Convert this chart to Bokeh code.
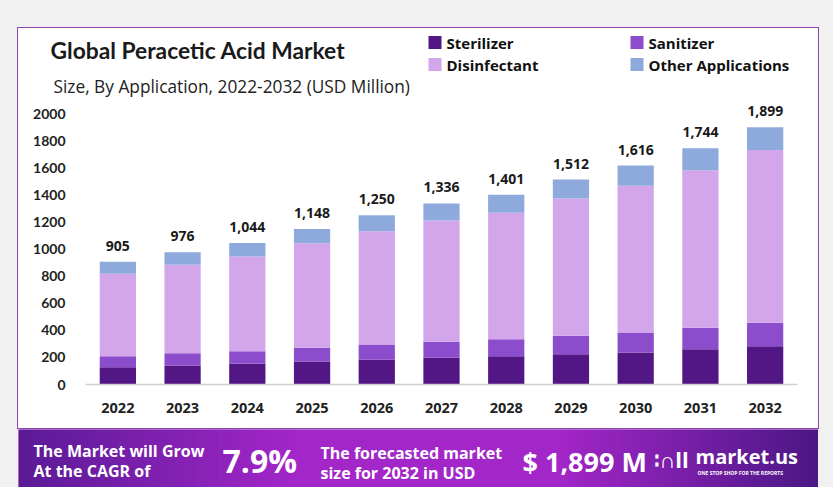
from bokeh.plotting import figure
from bokeh.layouts import column, row
from bokeh.models import FixedTicker, Label, ColumnDataSource, FactorRange, Range1d, Spacer
from bokeh.core.properties import value
from bokeh.embed import file_html
from bokeh.resources import INLINE

# ---------------- data ----------------
years = ["2022", "2023", "2024", "2025", "2026", "2027", "2028", "2029", "2030", "2031", "2032"]
sterilizer = [128, 140, 153, 170, 182, 197, 209, 224, 236, 261, 283]
sanitizer = [81, 91, 93, 101, 113, 118, 125, 135, 148, 157, 172]
disinfectant = [608, 652, 699, 772, 836, 895, 933, 1014, 1082, 1164, 1275]
other_apps = [88, 93, 99, 105, 119, 126, 134, 139, 150, 162, 169]
totals = [905, 976, 1044, 1148, 1250, 1336, 1401, 1512, 1616, 1744, 1899]
y_ticks = [0, 200, 400, 600, 800, 1000, 1200, 1400, 1600, 1800, 2000]
segments = ["Sterilizer", "Sanitizer", "Disinfectant", "Other Applications"]
seg_colors = ["#521685", "#8c4dcc", "#d3a6eb", "#8eaadc"]

title_text = "Global Peracetic Acid Market"
subtitle_text = "Size, By Application, 2022-2032 (USD Million)"
cagr_text = "7.9%"
forecast_text = "$ 1,899 M"

# ---------------- layout constants (page pixels) ----------------
PAGE_W, PAGE_H = 833, 487
CARD_L, CARD_T, CARD_W = 18, 28, 800
HDR_H = 71
CHART_H = 329
BAN_T, BAN_H = 429, 58
GRAY = "#f1f1f1"

# ---------------- header (title, subtitle, legend) ----------------
hdr = figure(width=CARD_W, height=HDR_H, x_range=Range1d(0, CARD_W), y_range=Range1d(HDR_H, 0),
             output_backend="svg", toolbar_location=None, x_axis_type=None, y_axis_type=None,
             min_border=0, min_border_left=0, min_border_right=0, min_border_top=0,
             min_border_bottom=0, outline_line_color=None, background_fill_color="white",
             border_fill_color="white")
hdr.xgrid.visible = False
hdr.ygrid.visible = False


def hlab(px, py, text, size, font="Open Sans", style="bold", color="#1a1a1a"):
    hdr.add_layout(Label(x=px - CARD_L, y=py - CARD_T, text=text, text_font=font,
                         text_font_style=style, text_font_size=size, text_color=color,
                         text_align="left", text_baseline="middle"))


hlab(50, 49, title_text, "22.8px", font="Lato")
hlab(53, 85.5, subtitle_text, "17.3px", style="normal", color="#222222")

leg_x = [428, 630, 428, 630]
leg_y = [42, 42, 64, 64]
leg_src = ColumnDataSource(dict(x=[v - CARD_L + 6.5 for v in leg_x], y=[v - CARD_T for v in leg_y],
                                tx=[v - CARD_L + 18 for v in leg_x], label=segments, color=seg_colors))
hdr.rect(x="x", y="y", width=13, height=13, fill_color="color", line_color=None, source=leg_src)
hdr.text(x="tx", y="y", text="label", source=leg_src, text_font=value("Open Sans"),
         text_font_style="bold", text_font_size="15px", text_color="#111111",
         text_baseline="middle", text_align="left")

# ---------------- chart ----------------
FL = 85           # frame left (page)
FR = 797          # frame right (page)
FB = 384          # frame bottom (page)
FT = CARD_T + HDR_H
Y_MAX = (FB - FT) / 0.1355

source = ColumnDataSource(data=dict(
    year=years, Sterilizer=sterilizer, Sanitizer=sanitizer,
    Disinfectant=disinfectant, **{"Other Applications": other_apps},
    total=totals, total_label=[f"{t:,}" for t in totals],
))

p = figure(width=CARD_W, height=CHART_H, x_range=FactorRange(factors=years),
           y_range=Range1d(0, Y_MAX), output_backend="svg", toolbar_location=None,
           min_border_left=FL - CARD_L, min_border_right=CARD_L + CARD_W - FR, min_border_top=0,
           min_border_bottom=CARD_T + HDR_H + CHART_H - FB,
           background_fill_color="white", border_fill_color="white", outline_line_color=None)

rs = p.vbar_stack(segments, x="year", width=0.56, source=source,
                  fill_color=seg_colors, line_color=None)

p.text(x="year", y="total", text="total_label", source=source,
       text_font=value("Open Sans"), text_font_style="bold", text_font_size="14px",
       text_color="#1a1a1a", text_align="center", text_baseline="bottom", y_offset=-11)

p.xgrid.visible = False
p.ygrid.visible = False
p.yaxis.ticker = FixedTicker(ticks=y_ticks)
p.yaxis.axis_line_color = None
p.yaxis.major_tick_line_color = None
p.yaxis.minor_tick_line_color = None
p.yaxis.major_label_text_font = "Lato"
p.yaxis.major_label_text_font_style = "bold"
p.yaxis.major_label_text_font_size = "14px"
p.yaxis.major_label_text_color = "#222222"
p.yaxis.major_label_standoff = 14

p.xaxis.axis_line_color = "#d0d0d0"
p.xaxis.axis_line_width = 1.5
p.xaxis.major_tick_line_color = None
p.xaxis.minor_tick_line_color = None
p.xaxis.major_label_text_font = "Open Sans"
p.xaxis.major_label_text_font_style = "bold"
p.xaxis.major_label_text_font_size = "14.5px"
p.xaxis.major_label_text_color = "#222222"
p.xaxis.major_label_standoff = 12

# ---------------- banner ----------------
ban = figure(width=CARD_W, height=BAN_H, x_range=Range1d(0, CARD_W), y_range=Range1d(BAN_H, 0),
             output_backend="svg", toolbar_location=None, x_axis_type=None, y_axis_type=None,
             min_border=0, min_border_left=0, min_border_right=0, min_border_top=0,
             min_border_bottom=0, outline_line_color=None, background_fill_color="#8a22b5",
             border_fill_color="#8a22b5")
ban.xgrid.visible = False
ban.ygrid.visible = False

stops = [(0, (0x5a, 0x1a, 0x96)), (280, (0xa3, 0x26, 0xc9)), (540, (0xa3, 0x26, 0xc9)),
         (800, (0x4a, 0x17, 0x84))]


def grad(px):
    for (x0, c0), (x1, c1) in zip(stops[:-1], stops[1:]):
        if x0 <= px <= x1:
            t = (px - x0) / (x1 - x0)
            return "#%02x%02x%02x" % tuple(int(round(a + (b - a) * t)) for a, b in zip(c0, c1))
    return "#%02x%02x%02x" % stops[-1][1]


step = 5
lefts = list(range(0, CARD_W, step))
ban.quad(left=lefts, right=[v + step + 0.5 for v in lefts], top=0, bottom=BAN_H,
         fill_color=[grad(v + step / 2) for v in lefts], line_color=None)


def blab(px, py, text, size, style="bold", font="Open Sans"):
    ban.add_layout(Label(x=px - CARD_L, y=py - BAN_T, text=text, text_font=font,
                         text_font_style=style, text_font_size=size, text_color="white",
                         text_align="left", text_baseline="middle"))


blab(33, 450, "The Market will Grow", "16px")
blab(33, 470, "At the CAGR of", "16px")
blab(222, 460, cagr_text, "32px")
blab(320, 452, "The forecasted market", "16px")
blab(320, 472, "size for 2032 in USD", "16px")
blab(522, 461, forecast_text, "27px")
blab(653, 458, "\u2236\u2229ll", "22px")
blab(695, 456, "market.us", "20px")
blab(697, 472, "ONE STOP SHOP FOR THE REPORTS", "5px")

# ---------------- page layout ----------------
card = column(row(hdr), row(p), styles={"outline": "1.5px solid #8e44ad", "background-color": "white"})
root = column(
    Spacer(width=PAGE_W, height=CARD_T),
    row(Spacer(width=CARD_L, height=HDR_H + CHART_H), card,
        Spacer(width=PAGE_W - CARD_L - CARD_W, height=HDR_H + CHART_H)),
    Spacer(width=PAGE_W, height=BAN_T - CARD_T - HDR_H - CHART_H),
    row(Spacer(width=CARD_L, height=BAN_H), ban, Spacer(width=PAGE_W - CARD_L - CARD_W, height=BAN_H)),
    styles={"background-color": GRAY},
)

open("out.html", "w").write(file_html(root, INLINE))
